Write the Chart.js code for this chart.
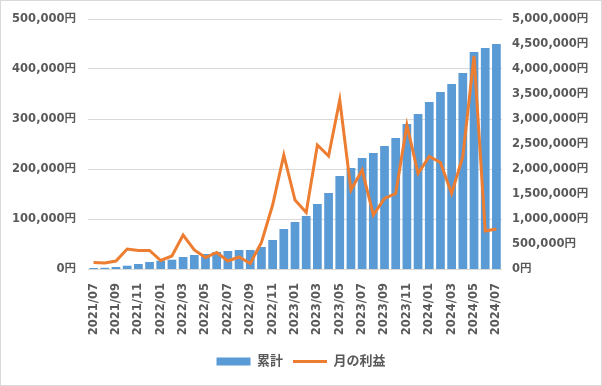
<!DOCTYPE html>
<html>
<head>
<meta charset="utf-8">
<script src="https://cdn.jsdelivr.net/npm/chart.js@4/dist/chart.umd.min.js"></script>
<style>
  html, body { margin: 0; padding: 0; background: #fff; }
  #wrap { width: 602px; height: 386px; }
</style>
</head>
<body>
<div id="wrap"><canvas id="myChart" width="602" height="386"></canvas></div>
<script>
/* データ */
const meses = [
  '2021/07','2021/08','2021/09','2021/10','2021/11','2021/12',
  '2022/01','2022/02','2022/03','2022/04','2022/05','2022/06',
  '2022/07','2022/08','2022/09','2022/10','2022/11','2022/12',
  '2023/01','2023/02','2023/03','2023/04','2023/05','2023/06',
  '2023/07','2023/08','2023/09','2023/10','2023/11','2023/12',
  '2024/01','2024/02','2024/03','2024/04','2024/05','2024/06','2024/07'
];
const lucroMensal = [
  13000, 12000, 16000, 40000, 37000, 37000,
  17000, 26000, 68000, 38000, 23000, 33000,
  16000, 24000, 11000, 53000, 128000, 228000,
  138000, 113000, 248000, 226000, 338000, 158000,
  198000, 108000, 141000, 151000, 288000, 191000,
  225000, 213000, 151000, 225000, 426000, 76000, 80000
];
const acumulado = [
  20000, 25000, 40000, 66000, 100000, 140000,
  166000, 186000, 240000, 280000, 300000, 340000,
  360000, 380000, 380000, 440000, 580000, 800000,
  940000, 1060000, 1300000, 1520000, 1860000, 2020000,
  2220000, 2320000, 2460000, 2620000, 2900000, 3100000,
  3340000, 3540000, 3700000, 3920000, 4340000, 4420000, 4500000
];

const fonte = '"DejaVu Sans", "Noto Sans CJK JP", sans-serif';
const corTexto = '#595959';

function formatarYen(v) {
  return v.toLocaleString('en-US') + '円';
}

/* fundo branco e borda cinza */
const borda = {
  id: 'borda',
  beforeDraw(chart) {
    const c = chart.ctx;
    c.save();
    c.fillStyle = '#fff';
    c.fillRect(0, 0, chart.width, chart.height);
    c.strokeStyle = '#D9D9D9';
    c.lineWidth = 1;
    c.strokeRect(0.5, 0.5, chart.width - 1, chart.height - 1);
    c.restore();
  }
};

var ctx = document.getElementById('myChart');
var myChart = new Chart(ctx, {
  type: 'bar',
  data: {
    labels: meses,
    datasets: [
      {
        type: 'bar',
        label: '累計',
        data: acumulado,
        yAxisID: 'y1',
        backgroundColor: '#5B9BD5',
        categoryPercentage: 0.78,
        barPercentage: 1,
        order: 2,
        pointStyle: 'rect'
      },
      {
        type: 'line',
        label: '月の利益',
        data: lucroMensal,
        yAxisID: 'y',
        borderColor: '#ED7D31',
        backgroundColor: '#ED7D31',
        borderWidth: 3,
        pointRadius: 0,
        tension: 0,
        order: 1,
        pointStyle: 'line'
      }
    ]
  },
  options: {
    responsive: false,
    animation: false,
    layout: { padding: { top: 19, bottom: 8, left: 0, right: 0 } },
    plugins: {
      tooltip: { enabled: false },
      legend: {
        position: 'bottom',
        labels: {
          usePointStyle: true,
          pointStyleWidth: 34,
          boxHeight: 8,
          padding: 10,
          color: corTexto,
          font: { family: fonte, size: 13, weight: 'bold' },
          sort: (a, b) => a.datasetIndex - b.datasetIndex
        }
      }
    },
    scales: {
      x: {
        grid: { display: false },
        border: { display: false },
        ticks: {
          autoSkip: false,
          maxRotation: 90,
          minRotation: 90,
          padding: 6,
          color: corTexto,
          font: { family: fonte, size: 11.5, weight: 'bold' },
          callback: function (v, i) {
            return i % 2 === 0 ? meses[i] : '';
          }
        },
        afterFit: s => { s.height = 76; }
      },
      y: {
        position: 'left',
        min: 0,
        max: 500000,
        grid: { color: '#D9D9D9', drawTicks: false },
        border: { display: false },
        ticks: {
          stepSize: 100000,
          padding: 12,
          color: corTexto,
          font: { family: fonte, size: 11.5, weight: 'bold' },
          callback: v => formatarYen(v)
        },
        afterFit: s => { s.width = 88; }
      },
      y1: {
        position: 'right',
        min: 0,
        max: 5000000,
        grid: { display: false, drawTicks: false },
        border: { display: false },
        ticks: {
          stepSize: 500000,
          padding: 10,
          color: corTexto,
          font: { family: fonte, size: 11.5, weight: 'bold' },
          callback: v => formatarYen(v)
        },
        afterFit: s => { s.width = 100; }
      }
    }
  },
  plugins: [borda]
});
</script>
</body>
</html>
